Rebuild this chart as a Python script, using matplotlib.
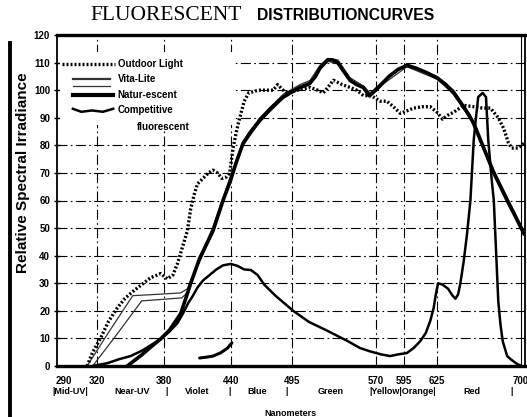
import matplotlib
matplotlib.use("Agg")
import matplotlib.pyplot as plt
from matplotlib.patches import Rectangle

# spectral curves, wavelength in nm vs relative irradiance
outdoor_nm = [311, 316, 323, 330, 338, 345, 352, 360, 368, 377, 383, 388, 392, 395, 398, 401,
              404, 407, 410, 415, 420, 424, 428, 432, 436, 439, 442, 445, 448, 452, 456, 465,
              473, 478, 482, 487, 491, 500, 511, 518, 523, 528, 532, 540, 547, 553, 559, 566,
              574, 580, 586, 592, 598, 604, 612, 619, 625, 630, 635, 640, 649, 658, 666, 673,
              680, 685, 689, 692, 698, 704]
outdoor_val = [0, 5, 10, 16, 21, 24.5, 27, 29.5, 32, 33.5, 31.6, 33, 37, 41, 45, 49,
               57, 62, 66, 68, 70, 71, 70, 68, 68.5, 70, 79, 85, 90, 96, 99, 100,
               100, 100, 102, 100, 99, 100, 101, 100, 99, 101.5, 103.6, 102, 101, 100, 98, 98,
               96, 96, 94, 91.6, 92.5, 93.5, 94, 94, 92, 89.5, 91, 92, 94.5, 94, 93.5, 93.5,
               90, 86, 81, 79, 79, 81]

natur_nm = [347, 360, 370, 377, 385, 390, 395, 400, 404, 412, 418, 424, 433, 439.5, 445, 451,
            458, 466, 476, 487, 495, 502, 511, 516, 520, 527, 531, 536, 541, 547, 553, 559,
            564, 570, 576, 582, 590, 598, 606, 615, 625, 633, 640, 647, 652, 658, 664, 670,
            676, 682, 688, 695, 703]
natur_val = [0, 4, 7.5, 9.8, 13, 16, 19, 25, 30, 39, 44, 49, 60, 67, 74, 80.7,
             85, 89, 93.5, 97.5, 99.5, 101, 102.5, 105, 108, 111, 111, 110, 107, 103.6, 102, 101,
             98, 100, 102.5, 105, 107.5, 109, 108, 106.5, 104.5, 102, 99, 95, 92, 88, 82, 76,
             70, 65, 60, 54.5, 48]

vita_a_nm = [311, 330, 352, 375, 395, 401, 410, 424, 439, 451, 466, 487, 502, 511, 520, 527,
             536, 547, 559, 565, 576, 598, 625, 640, 655, 676, 703]
vita_a_val = [0, 12, 25.5, 26, 26.5, 28, 37, 50.5, 68, 81.5, 90, 98.5, 102, 103.5, 109, 111.5,
              111, 104.5, 101.5, 99, 103, 109.5, 105, 100, 91, 71, 49]

vita_b_nm = [316, 335, 360, 380, 396, 402, 410, 424, 439, 451, 466, 487, 502, 511, 520, 527,
             536, 547, 559, 565, 576, 598, 625, 640, 655, 676, 703]
vita_b_val = [0, 10, 23.6, 24.2, 24.7, 27, 36, 48.5, 66.5, 80, 88.5, 97, 100.5, 102, 107.5, 110.5,
              109.5, 103, 100.5, 97.5, 102, 108.5, 104, 98.5, 89.5, 69.5, 47.5]

comp_nm = [316, 325, 329, 340, 350, 360, 370, 377, 385, 392, 397, 402, 406, 410, 415, 421,
           427, 433, 440, 446, 452, 458, 464, 470, 480, 496, 510, 527, 545, 556, 565, 575,
           583, 590, 598, 604, 610, 615, 619, 622, 624, 626, 630, 635, 639, 641.6, 644, 646,
           649, 652, 655, 658, 660, 662, 666, 669, 671, 674, 676, 678, 680, 682, 684, 688,
           691, 697, 701]
comp_val = [0, 0.7, 1, 2.5, 3.6, 5.5, 8, 9.8, 12.5, 15.5, 19, 23, 25.5, 28.4, 31, 33,
            35, 36.5, 37, 36.3, 35, 34.8, 33, 29.5, 25.5, 20, 16, 12.7, 9, 6.5, 5.3, 4.2,
            3.6, 4.2, 4.7, 6.5, 9, 12, 16.4, 21, 26, 30, 29.5, 28, 25.5, 24.4, 26, 30,
            38, 48, 60, 82, 90, 97.5, 99, 97.5, 82, 68, 60, 42, 23.6, 15, 9, 3.6,
            2.5, 0.7, 0]

comp_arc_nm = [412, 418, 424, 431, 437, 441]
comp_arc_val = [2.9, 3.2, 3.6, 4.8, 6.5, 8.4]

xtick_nm = [290, 320, 380, 440, 495, 570, 595, 625, 700]
ytick_val = list(range(0, 121, 10))

band_names = ["|Mid-UV|", "Near-UV", "|", "Violet", "|", "Blue", "|", "Green",
              "|Yellow|Orange|", "Red", "|"]
band_nm = [296, 351, 382, 410, 439, 464, 490, 530, 594, 656.5, 692]

fig = plt.figure(figsize=(5.27, 4.17), dpi=100)
ax = fig.add_axes([57 / 527, 1 - 366 / 417, 468 / 527, 331 / 417])
ax.set_xlim(284, 704)
ax.set_ylim(0, 120)

grid_ls = (0, (9, 3, 1.5, 3))
for v in ytick_val[1:-1]:
    ax.axhline(v, color="black", lw=0.8, ls=grid_ls, zorder=1)
for v in xtick_nm[1:-1]:
    ax.axvline(v, color="black", lw=0.8, ls=grid_ls, zorder=1)
ax.axvline(700, color="black", lw=0.8, ls="-", zorder=1)

# blank area behind the key
ax.add_patch(Rectangle((0.006, 0.728), 0.37, 0.222, transform=ax.transAxes,
                       facecolor="white", edgecolor="none", zorder=2))

ax.plot(outdoor_nm, outdoor_val, color="black", lw=2.4, ls=(0, (0.6, 0.6)), zorder=4)
ax.plot(vita_a_nm, vita_a_val, color="#333333", lw=0.9, zorder=3)
ax.plot(vita_b_nm, vita_b_val, color="#333333", lw=0.9, zorder=3)
ax.plot(natur_nm, natur_val, color="black", lw=2.6, zorder=5)
ax.plot(comp_nm, comp_val, color="black", lw=1.8, zorder=4)
ax.plot(comp_arc_nm, comp_arc_val, color="black", lw=2.2, solid_capstyle="round", zorder=4)

for side in ["top", "bottom"]:
    ax.spines[side].set_linewidth(2.4)
for side in ["left", "right"]:
    ax.spines[side].set_linewidth(1.3)

lab_font = dict(family="Liberation Sans", weight="bold", size=7)
ax.set_xticks(xtick_nm)
ax.set_xticklabels([str(v) for v in xtick_nm], **lab_font)
ax.set_yticks(ytick_val)
ax.set_yticklabels([str(v) for v in ytick_val], **lab_font)
ax.tick_params(axis="x", length=0, pad=7)
ax.tick_params(axis="y", length=4, direction="inout", pad=3, width=1)

for name, x in zip(band_names, band_nm):
    ax.text(x, -9.4, name, ha="center", va="center", fontsize=6.5,
            family="Liberation Sans", weight="bold")
fig.text(290 / 527, 1 - 413 / 417, "Nanometers", ha="center", va="center",
         fontsize=6.5, family="Liberation Sans", weight="bold")

fig.text(23 / 527, 0.585, "Relative Spectral Irradiance", rotation=90, ha="center", va="center",
         fontsize=11, family="Liberation Sans", weight="bold")

fig.text(90 / 527, 1 - 15 / 417, "FLUORESCENT", ha="left", va="center",
         fontsize=15.5, family="Liberation Serif")
fig.text(257 / 527, 1 - 16 / 417, "DISTRIBUTIONCURVES", ha="left", va="center",
         fontsize=11.3, family="Liberation Sans", weight="bold")

# key
tr = ax.transAxes
ax.plot([0.011, 0.124], [0.912, 0.912], transform=tr, color="black", lw=2.4,
        ls=(0, (0.6, 0.6)), zorder=6)
ax.plot([0.034, 0.113], [0.867, 0.867], transform=tr, color="#333333", lw=1.6, zorder=6)
ax.plot([0.034, 0.113], [0.846, 0.846], transform=tr, color="#333333", lw=0.9, zorder=6)
ax.plot([0.034, 0.120], [0.819, 0.819], transform=tr, color="black", lw=3, zorder=6)
ax.plot([0.034, 0.052, 0.075, 0.098, 0.120], [0.777, 0.768, 0.772, 0.768, 0.777],
        transform=tr, color="black", lw=1.8, zorder=6)
key_font = dict(family="Liberation Sans", weight="bold", size=7, va="center", ha="left",
                transform=tr, zorder=6)
ax.text(0.130, 0.912, "Outdoor Light", **key_font)
ax.text(0.130, 0.867, "Vita-Lite", **key_font)
ax.text(0.130, 0.819, "Natur-escent", **key_font)
ax.text(0.130, 0.773, "Competitive", **key_font)
ax.text(0.171, 0.722, "fluorescent", **key_font)

# dark edge on the left of the sheet
fig.add_artist(plt.Line2D([10 / 527, 10 / 527], [0, 1 - 43 / 417], color="black", lw=2.8))

fig.savefig("out.png", dpi=100)
